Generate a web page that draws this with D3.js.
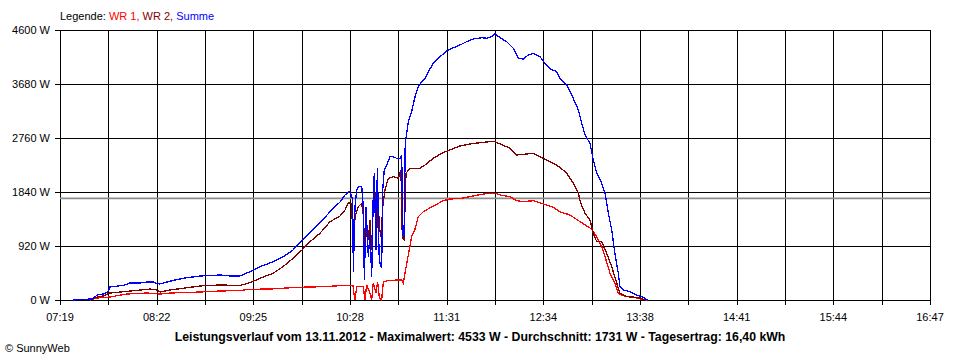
<!DOCTYPE html>
<html><head><meta charset="utf-8">
<script src="https://cdn.jsdelivr.net/npm/d3@7"></script>
<style>
body{margin:0;background:#fff}
svg{display:block}
text{font-family:Arial,"Liberation Sans",sans-serif;font-size:11px;fill:#000}
</style>
</head><body>
<svg id="chart" width="960" height="360"></svg>
<script>
// ---- data ----
const xTickLabels = ["07:19","08:22","09:25","10:28","11:31","12:34","13:38","14:41","15:44","16:47"];
const yTicks = [0, 920, 1840, 2760, 3680, 4600];
const average = 1731;
const seriesNames = ["WR 1", "WR 2", "Summe"];

const summeTimes = ["7:27:30","7:35:18","7:40:30","7:43:12","7:47:06","7:50:18","7:51:36","7:56:54","8:01:24","8:04:42","8:11:12","8:15:48","8:19:42","8:22:18","8:24:18","8:28:54","8:34:06","8:40:36","8:50:24","8:56:54","9:03:30","9:10:00","9:16:30","9:23:00","9:29:36","9:38:06","9:44:36","9:51:06","9:57:00","10:02:12","10:08:42","10:15:18","10:21:48","10:25:06","10:28:18","10:30:06","10:30:30","10:31:36","10:32:42","10:33:48","10:36:00","10:37:00","10:37:42","10:38:48","10:40:18","10:41:24","10:42:30","10:43:30","10:44:12","10:45:18","10:46:12","10:47:18","10:47:54","10:49:00","10:49:42","10:50:42","10:52:18","10:54:24","10:56:36","10:58:48","11:01:00","11:02:06","11:02:42","11:03:36","11:04:24","11:04:54","11:06:24","11:08:36","11:10:48","11:12:54","11:15:06","11:17:18","11:19:30","11:22:42","11:27:06","11:31:30","11:35:48","11:40:06","11:44:30","11:48:48","11:54:18","11:57:36","12:00:48","12:03:00","12:06:18","12:10:36","12:15:00","12:18:12","12:21:30","12:24:42","12:28:00","12:32:24","12:35:36","12:38:54","12:43:18","12:45:24","12:49:48","12:54:06","12:57:24","12:59:36","13:01:48","13:05:00","13:07:12","13:09:24","13:12:42","13:14:48","13:17:00","13:19:12","13:21:18","13:23:30","13:24:36","13:26:48","13:31:06","13:35:30","13:39:48","13:41:36","13:42:54"];
const summeValues = [0,10,20,85,102,136,221,239,256,290,290,307,307,281,273,307,341,375,409,417,426,409,409,482,567,653,733,852,1010,1147,1312,1504,1670,1789,1857,1704,482,1590,1874,1930,1930,1590,341,1590,738,1141,397,1760,2159,852,2244,796,625,540,1874,2215,2300,2441,2441,2414,2414,2470,1136,1078,2670,2755,3038,3208,3464,3634,3719,3777,3890,4033,4145,4242,4298,4344,4401,4447,4469,4459,4486,4533,4469,4401,4288,4118,4106,4174,4203,4145,4033,3936,3890,3777,3663,3436,3237,3010,2811,2670,2385,2159,1988,1818,1477,1193,796,455,227,170,141,85,46,12,0];

const wr2Times = ["7:35:18","7:40:30","7:43:12","7:47:06","7:51:36","7:58:12","8:04:42","8:11:12","8:17:48","8:22:18","8:24:18","8:30:48","8:40:36","8:50:24","9:03:30","9:16:30","9:23:00","9:29:36","9:38:06","9:44:36","9:51:06","9:57:00","10:02:12","10:08:42","10:15:18","10:21:48","10:25:06","10:27:12","10:29:24","10:30:30","10:31:36","10:33:48","10:36:00","10:37:00","10:38:06","10:39:12","10:40:18","10:41:24","10:42:30","10:43:30","10:44:42","10:45:48","10:46:24","10:47:30","10:48:36","10:49:42","10:51:12","10:53:18","10:56:36","10:59:54","11:01:36","11:02:30","11:03:36","11:04:54","11:07:30","11:10:48","11:14:00","11:17:18","11:22:42","11:28:12","11:33:36","11:40:06","11:46:42","11:53:12","11:59:42","12:03:00","12:06:18","12:12:48","12:17:12","12:23:42","12:28:00","12:34:30","12:41:06","12:45:24","12:49:48","12:54:06","12:57:24","12:59:00","13:01:48","13:05:00","13:07:12","13:09:24","13:12:42","13:15:54","13:19:12","13:22:30","13:24:36","13:29:00","13:35:30","13:39:48","13:41:36"];
const wr2Values = [0,17,51,68,119,136,153,170,187,170,136,170,204,239,256,247,295,370,455,567,710,852,993,1136,1334,1431,1533,1653,1647,796,1419,1590,1647,1448,796,1307,1022,1363,852,1590,1818,1136,1874,1249,1078,1590,1874,2073,2101,2073,2215,1051,1022,2159,2244,2244,2244,2300,2414,2499,2556,2624,2658,2680,2697,2697,2658,2585,2470,2487,2499,2414,2329,2261,2159,1988,1818,1647,1477,1363,1136,993,993,796,567,285,114,56,46,12,0];

const wr1Times = ["7:38:36","7:43:12","7:51:36","8:02:42","8:15:48","8:24:18","8:30:48","8:50:24","9:03:30","9:16:30","9:23:00","9:36:06","9:53:42","10:10:42","10:23:48","10:28:18","10:30:18","10:30:54","10:31:36","10:32:42","10:37:00","10:38:06","10:39:12","10:41:24","10:42:30","10:43:30","10:45:18","10:46:24","10:47:30","10:49:00","10:50:06","10:53:18","10:58:48","11:02:06","11:03:06","11:04:12","11:06:24","11:08:36","11:10:48","11:12:54","11:16:12","11:22:42","11:29:18","11:33:36","11:40:06","11:46:42","11:53:12","11:59:42","12:03:00","12:06:18","12:12:48","12:17:12","12:21:18","12:28:00","12:34:30","12:41:06","12:45:24","12:52:00","12:58:30","13:06:06","13:09:24","13:12:42","13:15:54","13:18:06","13:21:18","13:23:30","13:26:48","13:33:18","13:38:48","13:42:00"];
const wr1Values = [0,34,51,102,119,102,119,136,153,162,182,187,216,227,247,247,239,114,0,227,227,0,256,114,0,285,114,312,29,0,312,329,341,341,285,455,767,1078,1210,1419,1504,1601,1692,1721,1729,1760,1797,1818,1818,1789,1760,1692,1675,1692,1636,1579,1504,1448,1334,1210,1078,908,647,455,285,114,73,46,12,0];

// ---- drawing ----
const svg = d3.select("#chart");
const W = 960, H = 360;
const m = {left: 60, right: 30, top: 30, bottom: 60};
const toMin = s => { const p = s.split(":").map(Number); return p[0]*60 + p[1] + (p[2]||0)/60; };

const t0 = toMin(xTickLabels[0]), t1 = toMin(xTickLabels[xTickLabels.length-1]);
const x = d3.scaleLinear().domain([t0, t1]).range([m.left, W - m.right]);
const y = d3.scaleLinear().domain([0, 4600]).range([H - m.bottom, m.top]);

const nInt = xTickLabels.length - 1;
const step = (t1 - t0) / nInt;
const majorT = d3.range(0, nInt + 1).map(i => t0 + i*step);
const allT = d3.range(0, 2*nInt + 1).map(i => t0 + i*step/2);

const g = svg.append("g");
// vertical grid (major + minor), with tick below axis
g.selectAll("line.vg").data(allT).join("line")
  .attr("x1", d => Math.round(x(d)) + 0.5).attr("x2", d => Math.round(x(d)) + 0.5)
  .attr("y1", y(4600)).attr("y2", y(0) + 5)
  .attr("stroke", "#000").attr("stroke-width", 1);
// horizontal grid with tick left of axis
g.selectAll("line.hg").data(yTicks).join("line")
  .attr("x1", m.left - 5).attr("x2", W - m.right + 0.5)
  .attr("y1", d => Math.round(y(d)) + 0.5).attr("y2", d => Math.round(y(d)) + 0.5)
  .attr("stroke", "#000").attr("stroke-width", 1);
// average line
g.append("line")
  .attr("x1", m.left).attr("x2", W - m.right)
  .attr("y1", y(average)).attr("y2", y(average))
  .attr("stroke", "#8c8c8c").attr("stroke-width", 1.6);

// y labels
g.selectAll("text.yl").data(yTicks).join("text")
  .attr("x", m.left - 10).attr("y", d => y(d) + 4)
  .attr("text-anchor", "end").text(d => d + " W");
// x labels
g.selectAll("text.xl").data(majorT).join("text")
  .attr("x", d => x(d)).attr("y", y(0) + 21)
  .attr("text-anchor", "middle").text((d, i) => xTickLabels[i]);

// series
const mk = (times, vals) => times.map((t, i) => ({t: toMin(t), v: vals[i]}));
const line = d3.line().x(d => x(d.t)).y(d => y(d.v));
const series = [
  {data: mk(wr1Times, wr1Values), color: "#ff0000"},
  {data: mk(wr2Times, wr2Values), color: "#800000"},
  {data: mk(summeTimes, summeValues), color: "#0000ff"}
];
svg.append("g").selectAll("path").data(series).join("path")
  .attr("d", d => line(d.data)).attr("fill", "none")
  .attr("stroke", d => d.color).attr("stroke-width", 1.3)
  .attr("shape-rendering", "crispEdges")
  .attr("stroke-linejoin", "miter");

// legend
const leg = svg.append("text").attr("x", 60).attr("y", 20);
leg.append("tspan").text("Legende: ");
leg.append("tspan").style("fill", "#ff0000").text(seriesNames[0] + ", ");
leg.append("tspan").style("fill", "#800000").text(seriesNames[1] + ", ");
leg.append("tspan").style("fill", "#0000ff").text(seriesNames[2]);

// title
svg.append("text").attr("x", 480).attr("y", 341).attr("text-anchor", "middle")
  .style("font-weight", "bold").style("font-size", "12.3px")
  .text("Leistungsverlauf vom 13.11.2012 - Maximalwert: 4533 W - Durchschnitt: 1731 W - Tagesertrag: 16,40 kWh");
svg.append("text").attr("x", 5).attr("y", 352).text("© SunnyWeb");
</script>
</body></html>
